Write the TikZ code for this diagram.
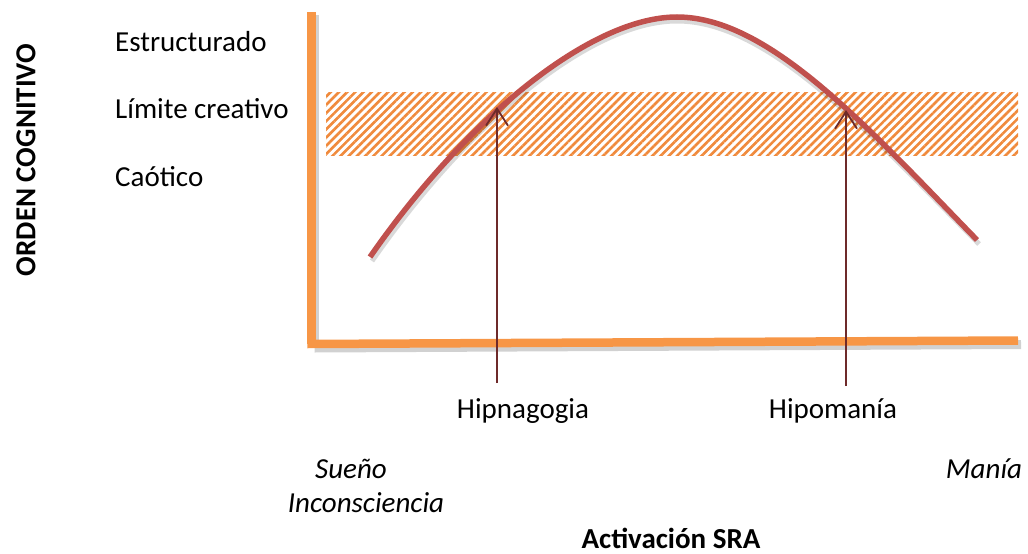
\documentclass[tikz,border=0pt]{standalone}
\usepackage{fontspec}
\setmainfont{Carlito}
\usetikzlibrary{patterns.meta,arrows.meta,calc}
\definecolor{axisor}{HTML}{F79646}
\definecolor{hatchor}{HTML}{F08A3C}
\definecolor{curvered}{HTML}{C0504D}
\definecolor{arrowred}{HTML}{6E2A2A}
\tikzset{
  lbl/.style={font=\fontsize{29}{34}\selectfont, inner sep=0pt},
  axisline/.style={draw=axisor, line width=8.5pt},
  shadowline/.style={draw=black, opacity=0.18, line width=9pt},
  curveline/.style={draw=curvered, line width=5.5pt},
  upar/.style={draw=arrowred, line width=1.8pt, -{Straight Barb[length=17pt,width=22pt,line width=1.8pt]}}
}
\begin{document}
\begin{tikzpicture}[x=1pt,y=-1pt]
\useasboundingbox (0,0) rectangle (1028,554);
% hatched band
\path[pattern={Lines[angle=45,distance=5.8pt,line width=2.6pt]}, pattern color=hatchor] (326,92) rectangle (1018,155);
% coordinates
\coordinate (vtop) at (311.5,12);
\coordinate (orig) at (311.5,344);
\coordinate (xend) at (1018,340.5);
\coordinate (c0) at (370,257);
\coordinate (cpk) at (677,17);
\coordinate (c1) at (977,240);
% shadows
\draw[shadowline] ($(vtop)+(3,3)$) -- ($(orig)+(3,4)$);
\draw[shadowline] ($(orig)+(3,4)$) -- ($(xend)+(3,4)$);
\draw[draw=black, opacity=0.15, line width=5pt] ($(c0)+(2,4)$) .. controls (467,124) and (590,21) .. ($(cpk)+(0,4)$) .. controls (770,21) and (870,134) .. ($(c1)+(2,4)$);
% axes
\draw[axisline] (vtop) -- (orig);
\draw[axisline] (307.3,344) -- (xend);
% curve
\draw[curveline] (c0) .. controls (465,120) and (590,17) .. (cpk) .. controls (770,17) and (870,130) .. (c1);
% arrows
\coordinate (h1b) at (497,383);
\coordinate (h1t) at (497,107);
\coordinate (h2b) at (846,386);
\coordinate (h2t) at (846,110);
\draw[upar] (h1b) -- (h1t);
\draw[upar] (h2b) -- (h2t);
% labels
\node[lbl, anchor=west] (est) at (115,42) {Estructurado};
\node[lbl, anchor=west] (lim) at (115,109) {Límite creativo};
\node[lbl, anchor=west] (cao) at (115,177) {Caótico};
\node[lbl, font=\fontsize{29}{34}\selectfont\bfseries, rotate=90] (ord) at (26,160) {ORDEN COGNITIVO};
\node[lbl] (hip1) at (523,411) {Hipnagogia};
\node[lbl] (hip2) at (833,411) {Hipomanía};
\node[lbl, font=\fontsize{29}{34}\selectfont\itshape] (sue) at (351,469) {Sueño};
\node[lbl, font=\fontsize{29}{34}\selectfont\itshape] (inc) at (366,503) {Inconsciencia};
\node[lbl, font=\fontsize{29}{34}\selectfont\itshape] (man) at (984,469) {Manía};
\node[lbl, font=\fontsize{29}{34}\selectfont\bfseries] (act) at (671,538) {Activación SRA};
\end{tikzpicture}
\end{document}
